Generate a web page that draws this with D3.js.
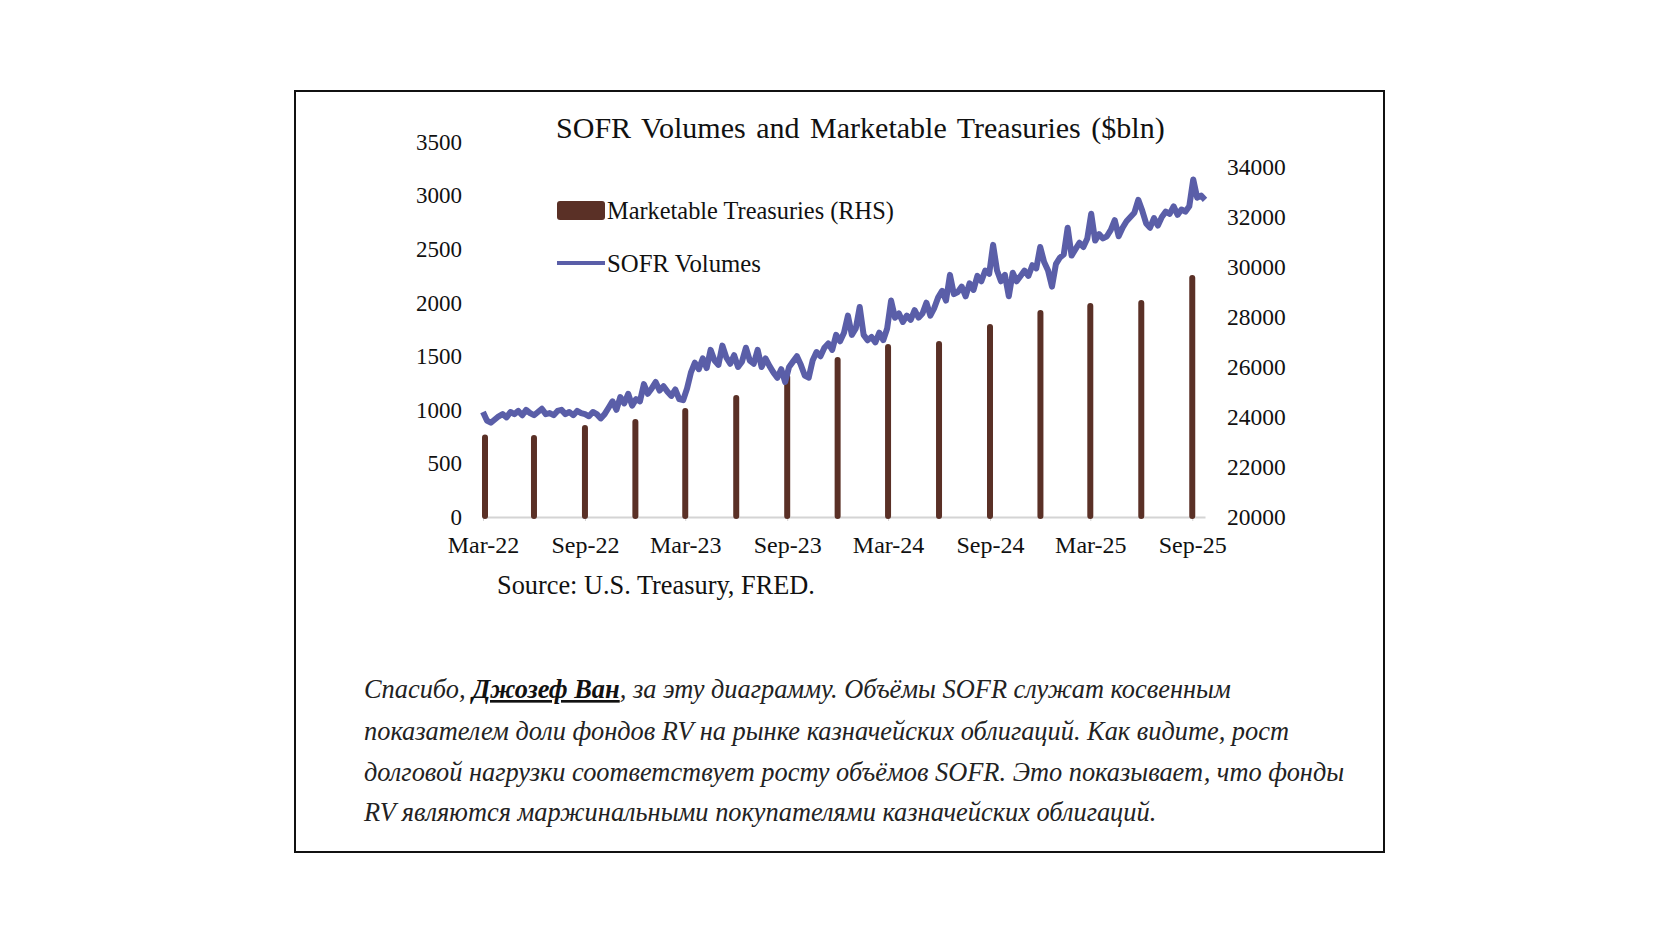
<!DOCTYPE html>
<html>
<head>
<meta charset="utf-8">
<script src="https://cdn.jsdelivr.net/npm/d3@7"></script>
<style>
  body { margin: 0; background: #fff; }
  svg text { font-family: "Liberation Serif", "Times New Roman", serif; fill: #111; }
</style>
</head>
<body>
<svg id="chart" width="1680" height="944"></svg>
<script>
// Quarterly marketable treasuries (RHS, $bln)
const barDates = ["2022-03", "2022-06", "2022-09", "2022-12", "2023-03", "2023-06", "2023-09", "2023-12",
                  "2024-03", "2024-06", "2024-09", "2024-12", "2025-03", "2025-06", "2025-09"];
const barValues = [23300, 23280, 23680, 23920, 24360, 24880, 25720, 26400,
                   26920, 27040, 27720, 28280, 28560, 28680, 29680];

// SOFR volumes ($bln), roughly weekly from Mar-22 to late Sep-25
const sofrValues = [
  980, 900, 880, 910, 940, 960, 930, 980, 960, 990, 950, 1000, 970,
  950, 980, 1010, 960, 970, 950, 990, 1000, 960, 980, 950, 990, 970,
  960, 940, 980, 960, 920, 960, 1020, 1080, 1000, 1120, 1060, 1150, 1040,
  1100, 1080, 1240, 1150,
  1200, 1260, 1180, 1220, 1170, 1130, 1190, 1100, 1090, 1200, 1350, 1440, 1380,
  1480, 1390, 1560, 1460, 1420, 1600, 1490, 1430, 1510, 1400, 1450, 1580, 1460,
  1430, 1560, 1400, 1480, 1410, 1350, 1300, 1380, 1260, 1400, 1450, 1500, 1420,
  1320, 1300, 1460, 1540, 1500, 1580, 1620, 1560, 1700, 1640, 1720, 1880, 1700,
  1760, 1960, 1700, 1650, 1680, 1630, 1720, 1650, 1760, 2020, 1860, 1900, 1820,
  1880, 1840, 1930, 1860, 1900, 2000, 1880, 1950, 2050, 2110, 2020, 2260, 2080,
  2100, 2150, 2060, 2180, 2120, 2250, 2200, 2300, 2270, 2540, 2300, 2200, 2260,
  2060, 2280, 2200, 2250, 2300, 2250, 2350, 2320, 2520, 2380, 2300, 2150, 2360,
  2420, 2450, 2700, 2440, 2500, 2560, 2520, 2600, 2830, 2580, 2640, 2600, 2620,
  2680, 2770, 2620, 2700, 2760, 2800, 2840, 2960, 2860, 2740, 2700, 2790, 2720,
  2800, 2850, 2830, 2900, 2820, 2870, 2850, 2900, 3150, 2980, 3000, 2960
];

const leftTicks = [0, 500, 1000, 1500, 2000, 2500, 3000, 3500];
const rightTicks = [20000, 22000, 24000, 26000, 28000, 30000, 32000, 34000];
const xTickDates = ["2022-03", "2022-09", "2023-03", "2023-09", "2024-03", "2024-09", "2025-03", "2025-09"];

const titleText = "SOFR Volumes and Marketable Treasuries ($bln)";
const sourceText = "Source: U.S. Treasury, FRED.";
const captionLines = [
  ["Спасибо, ", "Джозеф Ван", ", за эту диаграмму. Объёмы SOFR служат косвенным"],
  ["показателем доли фондов RV на рынке казначейских облигаций. Как видите, рост"],
  ["долговой нагрузки соответствует росту объёмов SOFR. Это показывает, что фонды"],
  ["RV являются маржинальными покупателями казначейских облигаций."]
];

const parseMonth = d3.timeParse("%Y-%m");
const startDate = parseMonth("2022-03");
const endDate = new Date(2025, 8, 24);

const svg = d3.select("#chart");
svg.append("rect").attr("width", 1680).attr("height", 944).attr("fill", "#fff");

// frame
svg.append("rect")
  .attr("x", 295).attr("y", 91)
  .attr("width", 1089).attr("height", 761)
  .attr("fill", "none").attr("stroke", "#111").attr("stroke-width", 2);

const x = d3.scaleTime().domain([startDate, endDate]).range([483, 1205]);
const yLeft = d3.scaleLinear().domain([0, 3500]).range([517, 142]);
const yRight = d3.scaleLinear().domain([20000, 35000]).range([517, 142]);

// fit a text element to a width by changing its font size
function fitText(sel, target) {
  const fs = parseFloat(sel.attr("font-size"));
  const w = sel.node().getComputedTextLength();
  sel.attr("font-size", fs * target / w);
}

// title
const title = svg.append("text")
  .attr("x", 556).attr("y", 138)
  .attr("font-size", 30)
  .attr("word-spacing", 3)
  .text(titleText);
fitText(title, 609);

// x axis
const xAxis = svg.append("g")
  .attr("transform", "translate(0,517)")
  .call(d3.axisBottom(x)
    .tickValues(xTickDates.map(parseMonth))
    .tickFormat(d3.timeFormat("%b-%y"))
    .tickSize(4)
    .tickSizeOuter(0)
    .tickPadding(15));
xAxis.select(".domain").attr("stroke", "#d4d4d4").attr("stroke-width", 2);
xAxis.selectAll(".tick line").attr("stroke", "#d4d4d4");
xAxis.selectAll(".tick text")
  .attr("font-size", 24).attr("font-family", "Liberation Serif").attr("fill", "#111");

// left axis
const leftAxis = svg.append("g")
  .attr("transform", "translate(465,0)")
  .call(d3.axisLeft(yLeft).tickValues(leftTicks).tickFormat(d3.format("d")).tickSize(0).tickPadding(3));
leftAxis.select(".domain").remove();
leftAxis.selectAll(".tick text")
  .attr("font-size", 23).attr("font-family", "Liberation Serif").attr("fill", "#111");

// right axis
const rightAxis = svg.append("g")
  .attr("transform", "translate(1224,0)")
  .call(d3.axisRight(yRight).tickValues(rightTicks).tickFormat(d3.format("d")).tickSize(0).tickPadding(3));
rightAxis.select(".domain").remove();
rightAxis.selectAll(".tick text")
  .attr("font-size", 23.5).attr("font-family", "Liberation Serif").attr("fill", "#111");

// bars (RHS)
const barW = 6;
svg.append("g").selectAll("rect")
  .data(barDates.map((d, i) => ({ date: parseMonth(d), value: barValues[i] })))
  .enter()
  .append("rect")
  .attr("x", d => x(d.date) - barW / 2 + (d.date <= startDate ? 2 : 0))
  .attr("y", d => yRight(d.value))
  .attr("width", barW)
  .attr("height", d => 517 - yRight(d.value) + 2)
  .attr("rx", 3)
  .attr("fill", "#5a3026");

// SOFR line
const span = endDate - startDate;
const sofrData = sofrValues.map((v, i) => ({
  date: new Date(+startDate + span * i / (sofrValues.length - 1)),
  value: v
}));
svg.append("path")
  .datum(sofrData)
  .attr("fill", "none")
  .attr("stroke", "#5a5ea8")
  .attr("stroke-width", 6)
  .attr("stroke-linejoin", "round")
  .attr("d", d3.line().x(d => x(d.date)).y(d => yLeft(d.value)));

// legend
svg.append("rect")
  .attr("x", 557).attr("y", 201).attr("width", 48).attr("height", 19)
  .attr("rx", 3).attr("fill", "#5a3026");
const leg1 = svg.append("text")
  .attr("x", 607).attr("y", 219).attr("font-size", 23)
  .text("Marketable Treasuries (RHS)");
fitText(leg1, 287);
svg.append("line")
  .attr("x1", 557).attr("x2", 605).attr("y1", 263).attr("y2", 263)
  .attr("stroke", "#5a5ea8").attr("stroke-width", 4);
const leg2 = svg.append("text")
  .attr("x", 607).attr("y", 272).attr("font-size", 23)
  .text("SOFR Volumes");
fitText(leg2, 154);

// source
const src = svg.append("text")
  .attr("x", 497).attr("y", 594).attr("font-size", 23)
  .text(sourceText);
fitText(src, 318);

// caption
const capY = [698, 740, 781, 821];
const caps = captionLines.map((parts, i) => {
  const t = svg.append("text")
    .attr("x", 364).attr("y", capY[i])
    .attr("font-size", 24)
    .attr("font-style", "italic")
    .style("fill", "#222");
  parts.forEach((p, j) => {
    const ts = t.append("tspan").text(p);
    if (i === 0 && j === 1) {
      ts.attr("font-weight", "bold").style("text-decoration", "underline").style("fill", "#111");
    }
  });
  return t;
});
// size all lines from the longest one
const capW = caps[2].node().getComputedTextLength();
const capFs = 24 * 981 / capW;
caps.forEach(t => t.attr("font-size", capFs));
</script>
</body>
</html>
